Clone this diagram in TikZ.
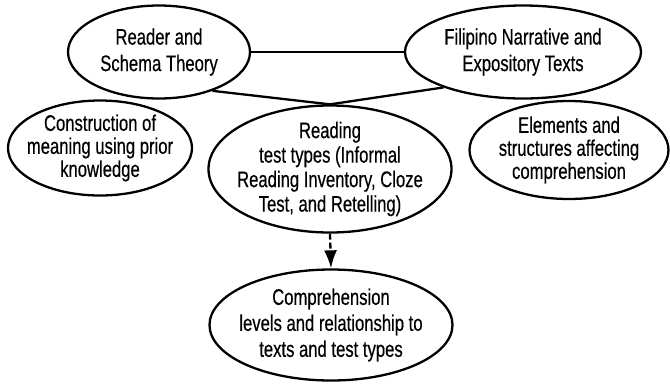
\documentclass[tikz,border=0pt]{standalone}
\usepackage{fontspec}
\setmainfont[FakeStretch=0.74,FakeBold=0.4]{Liberation Sans}
\usetikzlibrary{arrows.meta,shapes.geometric}
\begin{document}
\begin{tikzpicture}[x=1pt,y=-1pt,
  ell/.style={draw=black, line width=2.3pt, ellipse, inner sep=0pt},
  txt/.style={inner sep=0pt, align=center, font=\fontsize{22.5}{#1}\selectfont},
  link/.style={draw=black, line width=2.3pt},
  dasharrow/.style={draw=black, line width=2.3pt, dash pattern=on 6pt off 3pt, -{Latex[length=18pt,width=13pt]}}
]
\useasboundingbox (0,0) rectangle (670,384);
\node[ell,minimum width=182pt,minimum height=93pt] (A) at (159,52) {};
\node[ell,minimum width=236pt,minimum height=93pt] (B) at (523,52) {};
\node[ell,minimum width=184pt,minimum height=95pt] (C) at (100,148) {};
\node[ell,minimum width=199pt,minimum height=98pt] (D) at (569,150) {};
\node[ell,minimum width=243pt,minimum height=127pt] (E) at (330,169) {};
\node[ell,minimum width=243pt,minimum height=111pt] (F) at (331,325) {};
\node[txt=26.5] (At) at (A.center) {Reader and\\Schema Theory};
\node[txt=26.5] (Bt) at (B.center) {Filipino Narrative and\\Expository Texts};
\node[txt=23] (Ct) at (C.center) {Construction of\\meaning using prior\\knowledge};
\node[txt=23] (Dt) at (D.center) {Elements and\\structures affecting\\comprehension};
\node[txt=24.5] (Et) at (E.center) {Reading\\test types (Informal\\Reading Inventory, Cloze\\Test, and Retelling)};
\node[txt=26] (Ft) at (F.center) {Comprehension\\levels and relationship to\\texts and test types};
\draw[link] (A.east) -- (B.west);
\draw[link] (A.-36) -- (E.north);
\draw[link] (B.-156) -- (E.north);
\draw[dasharrow] (E.south) -- (F.north);
\end{tikzpicture}
\end{document}
